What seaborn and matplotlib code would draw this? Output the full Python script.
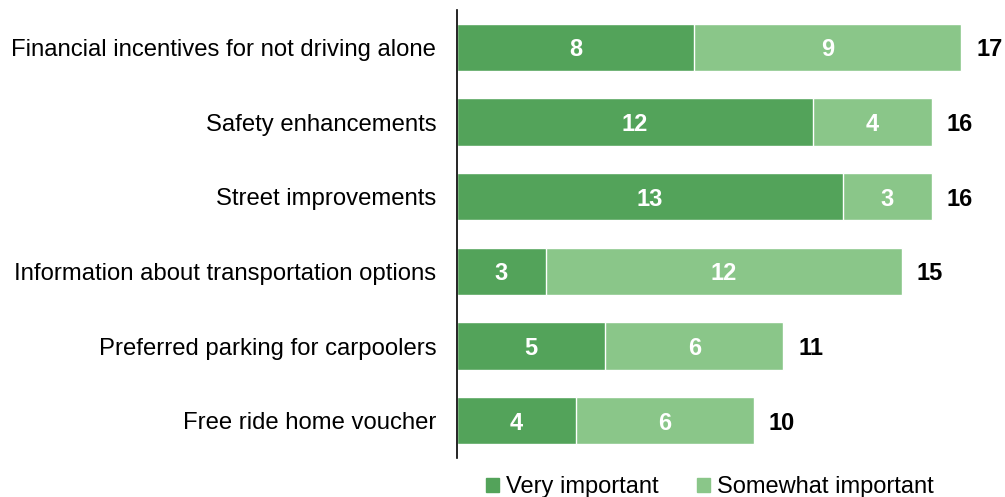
import matplotlib
matplotlib.use("Agg")
import matplotlib.pyplot as plt
import seaborn as sns
import pandas as pd
from matplotlib.patches import Patch

categories = ["Financial incentives for not driving alone", "Safety enhancements",
              "Street improvements", "Information about transportation options",
              "Preferred parking for carpoolers", "Free ride home voucher"]
very_important = [8, 12, 13, 3, 5, 4]
somewhat_important = [9, 4, 3, 12, 6, 6]
totals = [v + s for v, s in zip(very_important, somewhat_important)]

dark = "#53A35A"
light = "#8AC689"

sns.set_theme(style="white")
plt.rcParams['font.family'] = ['Liberation Sans', 'DejaVu Sans']
plt.rcParams['text.color'] = 'black'

df = pd.DataFrame({"cat": categories, "very": very_important,
                   "some": somewhat_important, "total": totals})

fig = plt.figure(figsize=(10.05, 4.97), dpi=100)
ax = fig.add_axes([457/1005, 1 - 458/497, 543/1005, 448/497])

sns.barplot(data=df, x="total", y="cat", color=light, orient="h", width=0.63,
            edgecolor="white", linewidth=1, saturation=1, ax=ax)
sns.barplot(data=df, x="very", y="cat", color=dark, orient="h", width=0.63,
            edgecolor="white", linewidth=1, saturation=1, ax=ax)

for i, (v, s, t) in enumerate(zip(very_important, somewhat_important, totals)):
    ax.text(v / 2, i, str(v), ha="center", va="center_baseline", color="white",
            fontsize=17, fontweight="bold")
    ax.text(v + s / 2, i, str(s), ha="center", va="center_baseline", color="white",
            fontsize=17, fontweight="bold")
    ax.text(t + 0.5, i, str(t), ha="left", va="center_baseline", color="black",
            fontsize=17, fontweight="bold")

ax.set_xlim(0, 18.3)
ax.set_ylim(5.5, -0.5)
ax.set_xlabel("")
ax.set_ylabel("")
ax.set_xticks([])
ax.tick_params(axis="y", length=0, labelsize=17.2, pad=15, labelcolor="black")
for sp in ["top", "right", "bottom"]:
    ax.spines[sp].set_visible(False)
ax.spines["left"].set_color("black")
ax.spines["left"].set_linewidth(1.2)

handles = [Patch(color=dark, label="Very important"),
           Patch(color=light, label="Somewhat important")]
fig.legend(handles=handles, loc="center", bbox_to_anchor=(710/1005, 1 - 487/497),
           ncol=2, frameon=False, fontsize=17, handlelength=0.55, handleheight=0.55,
           handletextpad=0.3, columnspacing=1.6, labelcolor="black")

fig.savefig("out.png", dpi=100)
